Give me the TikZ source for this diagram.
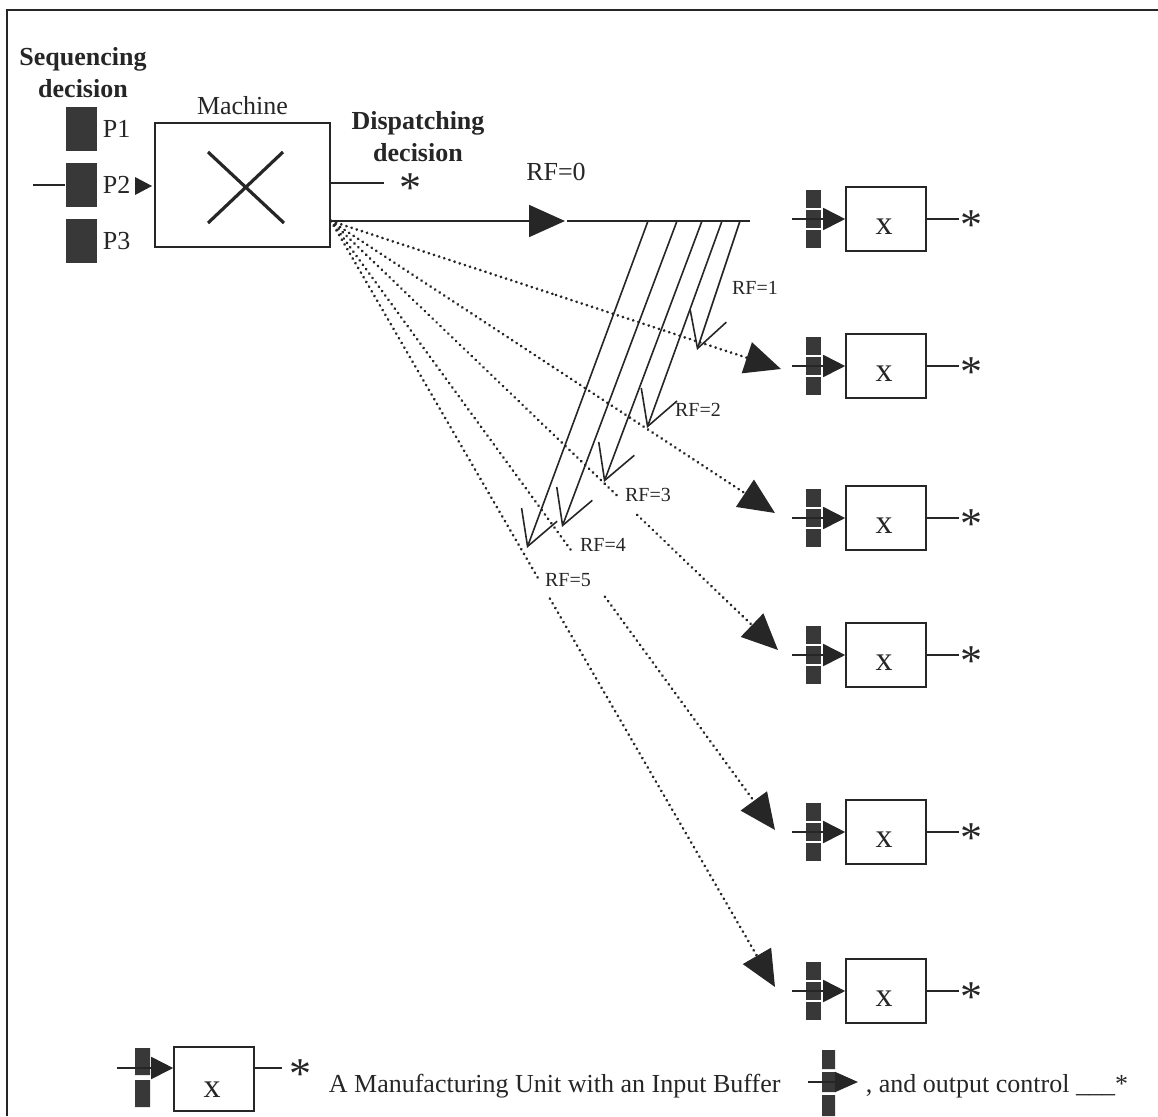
\documentclass[tikz,border=0pt]{standalone}
\usepackage{fontspec}
\setmainfont{Liberation Serif}
\usetikzlibrary{arrows.meta,positioning,calc}
\colorlet{ink}{black!85}
\colorlet{bufcol}{black!78}
\tikzset{x=0.5pt,y=-0.5pt,
  lbl/.style={font=\fontsize{13}{15}\selectfont},
  bold/.style={font=\bfseries\fontsize{13}{16}\selectfont,align=center},
  rflabel/.style={font=\fontsize{10}{12}\selectfont,inner sep=1pt},
  machbox/.style={draw,line width=0.8pt,minimum width=87.5pt,minimum height=62pt,inner sep=0pt},
  unitbox/.style={draw,line width=0.8pt,minimum width=40pt,minimum height=32pt,inner sep=0pt},
  ux/.style={font=\fontsize{17}{17}\selectfont,inner sep=0pt},
  aster/.style={font=\fontsize{22}{22}\selectfont,inner sep=0pt},
  pblk/.style={fill=bufcol,minimum width=15.5pt,minimum height=22pt,inner sep=0pt},
  blk/.style={fill=bufcol,minimum width=7.5pt,minimum height=9pt,inner sep=0pt},
  bigtri/.style={-{Triangle[length=18pt,width=16pt]}},
  smalltri/.style={-{Triangle[length=11pt,width=11pt]}},
  rfarrow/.style={-{Straight Barb[length=17pt,width=19pt]},line width=0.8pt},
  dotline/.style={line width=1.5pt,dash pattern=on 0.01pt off 2.7pt,line cap=round},
}

\begin{document}
\begin{tikzpicture}[color=ink,line width=0.9pt]
  \useasboundingbox (0,0) rectangle (1158,1116);
  \draw[line width=0.6pt] (7,1116) -- (7,10) -- (1158,10);

  % sequencing decision
  \node[bold] (seq) at (83,73) {Sequencing\\decision};
  \node[pblk] (p1) at (81.5,129) {};
  \node[pblk] (p2) at (81.5,185) {};
  \node[pblk] (p3) at (81.5,241) {};
  \node[lbl,right=0pt of p1,inner sep=2pt] (p1l) {P1};
  \node[lbl,right=0pt of p2,inner sep=2pt] (p2l) {P2};
  \node[lbl,right=0pt of p3,inner sep=2pt] (p3l) {P3};
  \coordinate (in0) at (33,185);
  \draw (in0) -- (p2.west);

  % machine
  \node[machbox] (mach) at (242.5,185) {};
  \node[lbl,above=0pt of mach] (machl) {Machine};
  \draw[line width=1.6pt] (208,152) -- (284,223) (283,152) -- (208,223);
  \fill (135,177) -- (152,186) -- (135,195) -- cycle;

  % dispatching decision
  \node[bold] (disp) at (418,137) {Dispatching\\decision};
  \node[aster] (s0) at (410,188) {*};
  \draw ([yshift=1pt]mach.east) -- ++(53,0);

  % RF=0
  \coordinate (mc) at (331,221);
  \coordinate (t0) at (565,221);
  \coordinate (bar0) at (567,221);
  \coordinate (bar1) at (750,221);
  \draw[bigtri] (mc) -- (t0);
  \draw (bar0) -- (bar1);
  \node[lbl] (rf0) at (556,172) {RF=0};

  % manufacturing units
  \foreach \k/\y in {1/219,2/366,3/518,4/655,5/832,6/991}{
    \node[unitbox] (u\k) at (886,\y) {};
    \node[ux] (ux\k) at (884,\y+8) {x};
    \node[blk] (ba\k) at (813.5,\y-20) {};
    \node[blk] (bb\k) at (813.5,\y) {};
    \node[blk] (bc\k) at (813.5,\y+20) {};
    \coordinate (ui\k) at (792,\y);
    \draw[smalltri] (ui\k) -- (u\k.west);
    \node[aster] (s\k) at (971,\y+6) {*};
    \draw (u\k.east) -- (u\k.east -| s\k.west);
  }

  % dispatching to the other units
  \foreach \k/\tx/\ty/\ga/\gb in {2/781/369/.5/.5,3/775/513/.5/.5,4/778/650/.64/.685,5/775/830/.545/.617,6/775/987/.47/.493}{
    \coordinate (t\k) at (\tx,\ty);
    \draw[dotline] (mc) -- ($(mc)!\ga!(t\k)$);
    \draw[dotline,bigtri] ($(mc)!\gb!(t\k)$) -- (t\k);
  }

  % routing flexibility
  \foreach \i/\sx/\tx/\ty/\lx/\ly in {1/740/697/350/755/288,2/722/647/428/698/410,3/702/604/482/648/495,4/677/562/527/603/545,5/648/527/548/568/580}{
    \coordinate (rs\i) at (\sx,221);
    \coordinate (rt\i) at (\tx,\ty);
    \draw[rfarrow] (rs\i) -- (rt\i);
    \node[rflabel] (rl\i) at (\lx,\ly) {RF=\i};
  }

  % legend
  \node[unitbox] (leg) at (214,1079) {};
  \node[ux] (legx) at (212,1090) {x};
  \fill[bufcol] (135,1048) rectangle (150,1075) (135,1080) rectangle (150,1107);
  \coordinate (legin) at (117,1068);
  \draw[smalltri] (legin) -- ([yshift=5.5pt]leg.west);
  \node[aster] (legs) at (300,1074) {*};
  \draw ([yshift=5.5pt]leg.east) -- ++(27,0);
  \node[lbl,anchor=base west,inner sep=0pt] (legt1) at (328,1092) {A Manufacturing Unit with an Input Buffer};
  \fill[bufcol] (822,1050) rectangle (835,1069) (822,1072) rectangle (835,1092) (822,1095) rectangle (835,1116);
  \coordinate (legb0) at (808,1082);
  \coordinate (legb1) at (858,1082);
  \draw[-{Triangle[length=11.5pt,width=10pt]}] (legb0) -- (legb1);
  \node[lbl,anchor=base west,inner sep=0pt] (legt2) at (865,1092) {, and output control \_\_\_*};
\end{tikzpicture}
\end{document}
